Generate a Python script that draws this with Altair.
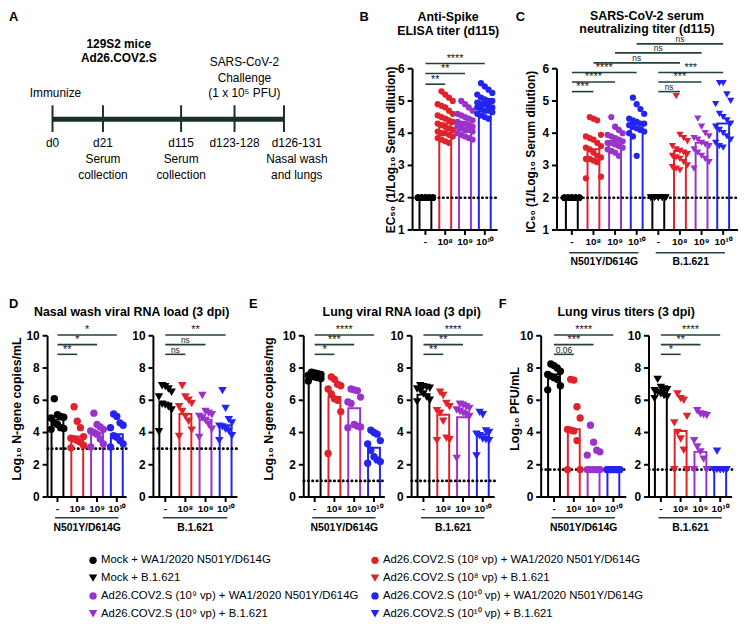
import altair as alt
import pandas as pd

FONT = "Liberation Sans"
W, H = 739, 616
MARGIN = 8  # page margin: reference coordinates are page coordinates


def P(v):
    return v - MARGIN


# ------------------------------------------------------------------ data
DOSE_LABELS = ["-", "10⁸", "10⁹", "10¹⁰"]
BLACK, RED, PURPLE, BLUE = "#000000", "#E0232B", "#9933CC", "#2424F0"
DOSE_COLORS = [BLACK, RED, PURPLE, BLUE]
LINE_COLOR = "#23403A"
TL_COLOR = "#1B2E2A"

TIMELINE_EVENTS = ["d0", "d21", "d115", "d123-128", "d126-131"]
TIMELINE_DAYS = [0, 21, 115, 123, 126]
TIMELINE_NOTES = ["", "Serum\ncollection", "Serum\ncollection", "", "Nasal wash\nand lungs"]

# B  anti-Spike ELISA (d115)
B_MOCK = [2.0, 2.0, 2.0, 2.0, 2.0, 2.0, 2.0, 2.0, 2.0, 2.0, 2.0, 2.0, 2.0, 2.0, 2.0, 2.0, 2.0, 2.0, 2.0, 2.0, 2.0, 2.0, 2.0, 2.0]
B_E8 = [5.3, 5.2, 5.1, 5.0, 4.9, 4.85, 4.8, 4.7, 4.6, 4.55, 4.5, 4.45, 4.4, 4.35, 4.3, 4.25, 4.2, 4.15, 4.1, 4.05, 4.0, 4.0, 3.95, 3.9, 3.85, 3.8, 3.75, 3.7]
B_E9 = [5.0, 4.9, 4.8, 4.7, 4.6, 4.55, 4.5, 4.45, 4.4, 4.35, 4.3, 4.3, 4.25, 4.2, 4.2, 4.15, 4.1, 4.1, 4.05, 4.0, 3.95, 3.9, 3.85, 3.8]
B_E10 = [5.55, 5.45, 5.35, 5.25, 5.2, 5.1, 5.05, 5.0, 5.0, 4.95, 4.9, 4.9, 4.85, 4.8, 4.8, 4.75, 4.7, 4.7, 4.65, 4.6, 4.55, 4.5, 4.45]
B_BARS = [2.0, 4.3, 4.25, 4.85]
B_SIG_FROM = [0, 0, 0]
B_SIG_TO = [1, 2, 3]
B_SIG_Y = [5.52, 5.85, 6.16]
B_SIG_TEXT = ["**", "**", "****"]

# C  neutralizing titer (d115)
C_N_MOCK = [2.0, 2.0, 2.0, 2.0, 2.0, 2.0, 2.0, 2.0, 2.0, 2.0, 2.0, 2.0, 2.0, 2.0, 2.0, 2.0, 2.0, 2.0, 2.0, 2.0]
C_N_E8 = [4.5, 4.45, 4.4, 3.95, 3.9, 3.85, 3.8, 3.7, 3.6, 3.55, 3.5, 3.4, 3.3, 3.25, 3.2, 3.2, 3.15, 3.1, 2.65, 2.6]
C_N_E9 = [4.5, 4.2, 4.1, 4.0, 3.95, 3.9, 3.85, 3.8, 3.75, 3.7, 3.7, 3.65, 3.6, 3.55, 3.5, 3.45, 3.4, 3.3]
C_N_E10 = [5.1, 4.9, 4.75, 4.6, 4.45, 4.4, 4.35, 4.3, 4.3, 4.25, 4.2, 4.15, 4.1, 4.05, 4.0, 3.9, 3.3]
C_B_MOCK = [2.0, 2.0, 2.0, 2.0, 2.0, 2.0, 2.0, 2.0, 2.0, 2.0, 2.0, 2.0, 2.0, 2.0, 2.0, 2.0, 2.0, 2.0]
C_B_E8 = [5.15, 3.95, 3.85, 3.75, 3.6, 3.5, 3.45, 3.4, 3.35, 3.3, 3.25, 3.2, 3.1, 3.0, 2.95, 2.9, 2.85]
C_B_E9 = [4.45, 4.2, 4.0, 3.9, 3.85, 3.8, 3.7, 3.65, 3.6, 3.5, 3.4, 3.3, 3.2, 3.1, 2.9]
C_B_E10 = [5.55, 5.55, 5.2, 5.0, 4.9, 4.6, 4.5, 4.4, 4.3, 4.2, 4.1, 4.0, 3.9, 3.8, 3.7, 3.6, 3.55]
C_BARS = [2.0, 3.5, 3.75, 4.3, 2.0, 3.45, 3.7, 4.3]
C_SIG_FROM = [0, 0, 0, 1, 2, 3, 4, 4, 4]
C_SIG_TO = [1, 2, 3, 5, 6, 7, 5, 6, 7]
C_SIG_Y = [5.29, 5.59, 5.88, 6.18, 6.49, 6.77, 5.29, 5.59, 5.88]
C_SIG_TEXT = ["***", "****", "****", "ns", "ns", "ns", "ns", "***", "***"]

# D  nasal wash RNA (log10 N copies/mL)
D_N = [
    [6.1, 5.1, 5.0, 4.95, 4.9, 4.6, 4.5, 4.3, 4.25, 4.2],
    [5.6, 4.7, 4.3, 3.75, 3.65, 3.6, 3.5, 3.4, 3.2, 3.05],
    [5.2, 4.5, 4.35, 4.2, 4.1, 4.0, 3.9, 3.6, 3.3, 3.1],
    [5.15, 5.0, 4.6, 4.45, 4.3, 3.8, 3.7, 3.5, 3.3, 3.1],
]
D_N_BARS = [4.8, 3.75, 3.95, 3.9]
D_B = [
    [6.9, 6.85, 6.7, 6.5, 6.2, 5.75, 5.7, 5.6, 5.4, 4.05],
    [6.9, 6.2, 6.0, 5.8, 5.6, 5.3, 5.0, 4.7, 4.15, 3.75],
    [6.3, 5.3, 5.2, 5.1, 5.0, 4.9, 4.75, 4.5, 4.2, 3.7],
    [6.6, 5.5, 4.8, 4.6, 4.4, 4.35, 4.2, 4.1, 3.8, 3.5],
]
D_B_BARS = [5.8, 5.15, 4.8, 4.45]
D_N_SIG = ["**", "*", "*"]
D_B_SIG = ["ns", "ns", "**"]

# E  lung RNA (log10 N copies/mg)
E_N = [
    [7.75, 7.7, 7.65, 7.6, 7.55, 7.5, 7.45, 7.4, 7.35, 7.2],
    [7.45, 7.3, 7.0, 6.9, 6.7, 6.4, 6.1, 6.0, 5.3, 2.7],
    [6.7, 6.65, 6.6, 6.2, 5.9, 5.8, 4.5, 4.4, 4.35, 4.3],
    [4.15, 4.0, 3.9, 3.5, 3.3, 2.9, 2.5, 2.3, 2.2, 2.1],
]
E_N_BARS = [7.5, 6.2, 5.5, 3.05]
E_B = [
    [6.9, 6.85, 6.8, 6.75, 6.7, 6.6, 6.4, 6.2, 6.0, 5.9],
    [6.5, 6.3, 5.8, 5.6, 5.35, 5.2, 4.7, 3.65, 3.55, 3.5],
    [5.75, 5.7, 5.6, 5.5, 5.4, 5.3, 5.2, 5.1, 5.0, 2.4],
    [5.25, 5.1, 4.1, 4.0, 3.9, 3.8, 3.6, 3.55, 3.5, 2.55],
]
E_B_BARS = [6.35, 5.1, 4.95, 3.9]
E_N_SIG = ["*", "***", "****"]
E_B_SIG = ["**", "**", "****"]

# F  lung virus titers (log10 PFU/mL)
F_N = [
    [8.25, 8.15, 8.0, 7.8, 7.6, 7.5, 7.4, 7.3, 6.9, 6.65],
    [7.3, 7.25, 5.6, 4.9, 4.2, 4.15, 4.1, 3.5, 1.7, 1.7],
    [4.45, 3.4, 2.9, 2.8, 2.6, 1.7, 1.7, 1.7, 1.7, 1.7],
    [1.7, 1.7, 1.7, 1.7, 1.7, 1.7, 1.7, 1.7, 1.7, 1.7],
]
F_N_BARS = [7.6, 4.2, 1.75, 1.7]
F_B = [
    [7.3, 6.8, 6.7, 6.65, 6.6, 6.5, 6.4, 6.3, 6.2, 6.1],
    [6.4, 6.1, 6.0, 5.0, 4.6, 4.0, 3.6, 2.9, 1.7, 1.7],
    [5.35, 5.15, 5.1, 5.05, 3.5, 3.1, 2.8, 2.35, 1.7, 1.7],
    [2.85, 1.7, 1.7, 1.7, 1.7, 1.7, 1.7, 1.7, 1.7, 1.7],
]
F_B_BARS = [6.6, 4.1, 2.8, 1.7]
F_N_SIG = ["0.06", "***", "****"]
F_B_SIG = ["*", "**", "****"]

LOW_SIG_Y = [8.85, 9.45, 10.05]

LEGEND_LABELS = [
    "Mock + WA1/2020 N501Y/D614G",
    "Mock + B.1.621",
    "Ad26.COV2.S (10⁹ vp) + WA1/2020 N501Y/D614G",
    "Ad26.COV2.S (10⁹ vp) + B.1.621",
    "Ad26.COV2.S (10⁸ vp) + WA1/2020 N501Y/D614G",
    "Ad26.COV2.S (10⁸ vp) + B.1.621",
    "Ad26.COV2.S (10¹⁰ vp) + WA1/2020 N501Y/D614G",
    "Ad26.COV2.S (10¹⁰ vp) + B.1.621",
]
LEGEND_COLORS = [BLACK, BLACK, PURPLE, PURPLE, RED, RED, BLUE, BLUE]
LEGEND_SHAPES = ["circle", "triangle-down"] * 4
TRI_SCALE = 1.35


# ------------------------------------------------------------------ helpers
def text_mark(txt, x, y, size=12, bold=False, angle=None, align="center",
              baseline="top", line_height=None, color="black"):
    kw = dict(font=FONT, fontSize=size, fontWeight="bold" if bold else "normal",
              align=align, baseline=baseline, color=color, lineBreak="\n")
    if angle is not None:
        kw["angle"] = angle
    if line_height is not None:
        kw["lineHeight"] = line_height
    return alt.Chart(pd.DataFrame({"t": [txt]})).mark_text(**kw).encode(
        x=alt.value(P(x)), y=alt.value(P(y)), text="t:N")


def dose_panel(groups, bars, colors, shapes, sig_from, sig_to, sig_y, sig_text,
               lod, g, underline=None, pt_size=45, jitter_px=3.0):
    labels = g["labels"]
    n = len(labels)
    step = (g["last"] - g["first"]) / (n - 1)
    pad = (g["first"] - g["left"]) / step
    lo, hi = -pad, (n - 1) + pad
    y0, y1 = g["ydom"]
    xs = alt.Scale(domain=[lo, hi], range=[P(g["left"]), P(g["last"] + g["first"] - g["left"])],
                   nice=False, zero=False, padding=0)
    ys = alt.Scale(domain=[y0, y1], range=[P(g["ybot"]), P(g["ytop"])], nice=False, zero=False)

    def XD(v):
        return alt.XDatum(v, scale=xs, axis=None, type="quantitative")

    def YD(v):
        return alt.YDatum(v, scale=ys, axis=None, type="quantitative")

    pts = pd.DataFrame([{"xi": i, "v": v, "col": colors[i], "shp": shapes[i],
                         "sz": pt_size * (TRI_SCALE if shapes[i] != "circle" else 1.0)}
                        for i, vals in enumerate(groups) for v in vals])
    bdf = pd.DataFrame({"xi": list(range(n)), "v": bars, "col": colors})
    sdf = pd.DataFrame({"x1": sig_from, "x2": sig_to, "y": sig_y, "t": sig_text})
    sdf["xm"] = (sdf.x1 + sdf.x2) / 2
    sdf["fs"] = [11 if "*" in t else 8.5 for t in sig_text]
    xtick_df = pd.DataFrame({"xi": list(range(n)), "lab": labels})
    ytick_df = pd.DataFrame({"v": g["yticks"]})
    one = pd.DataFrame({"k": [0]})

    bar_layer = alt.Chart(bdf).mark_bar(size=12, fill="white", strokeWidth=2).encode(
        x=alt.X("xi:Q", scale=xs, axis=None),
        y=alt.Y("v:Q", scale=ys, axis=None, stack=None),
        y2=alt.Y2Datum(y0),
        stroke=alt.Stroke("col:N", scale=None, legend=None),
    )
    # axes (drawn from the panel's own scales)
    x_domain = alt.Chart(one).mark_rule(strokeWidth=2, color="black").encode(
        x=XD(lo), x2=alt.X2Datum(hi), y=YD(y0))
    x_ticks = alt.Chart(xtick_df).mark_rule(strokeWidth=2, color="black", y2Offset=5).encode(
        x=alt.X("xi:Q", scale=xs, axis=None), y=YD(y0), y2=alt.Y2Datum(y0))
    x_labels = alt.Chart(xtick_df).mark_text(font=FONT, fontWeight="bold", fontSize=10,
                                             baseline="top", dy=7, color="black").encode(
        x=alt.X("xi:Q", scale=xs, axis=None), y=YD(y0), text="lab:N")
    y_domain = alt.Chart(one).mark_rule(strokeWidth=2, color="black").encode(
        x=XD(lo), y=YD(y0), y2=alt.Y2Datum(y1))
    y_ticks = alt.Chart(ytick_df).mark_rule(strokeWidth=2, color="black", x2Offset=-5).encode(
        x=XD(lo), x2=alt.X2Datum(lo), y=alt.Y("v:Q", scale=ys, axis=None))
    y_labels = alt.Chart(ytick_df).mark_text(font=FONT, fontWeight="bold", fontSize=12,
                                             align="right", baseline="middle", dx=-8,
                                             color="black").encode(
        x=XD(lo), y=alt.Y("v:Q", scale=ys, axis=None), text=alt.Text("v:Q", format="d"))

    lod_layer = alt.Chart(one).mark_rule(strokeDash=[0.5, 3.9], strokeCap="round",
                                         strokeWidth=2.6, color="black").encode(
        x=XD(lo), x2=alt.X2Datum(hi), y=YD(lod))
    jit = jitter_px / step
    pt_layer = alt.Chart(pts).transform_window(
        rn="row_number()", groupby=["xi"], sort=[alt.SortField("v", order="descending")]
    ).transform_calculate(
        xj="datum.xi + ((datum.rn % 5) - 2) * " + str(jit)
    ).mark_point(filled=True, opacity=1, strokeWidth=0).encode(
        x=alt.X("xj:Q", scale=xs, axis=None),
        y=alt.Y("v:Q", scale=ys, axis=None),
        color=alt.Color("col:N", scale=None, legend=None),
        shape=alt.Shape("shp:N", scale=None, legend=None),
        size=alt.Size("sz:Q", scale=None, legend=None),
    )
    sig_rule = alt.Chart(sdf).mark_rule(strokeWidth=1.6, color=LINE_COLOR).encode(
        x=alt.X("x1:Q", scale=xs, axis=None), x2="x2:Q",
        y=alt.Y("y:Q", scale=ys, axis=None),
    )
    sig_txt = alt.Chart(sdf).mark_text(font=FONT, baseline="alphabetic", dy=-1.5,
                                       color="#1a1a1a").encode(
        x=alt.X("xm:Q", scale=xs, axis=None),
        y=alt.Y("y:Q", scale=ys, axis=None),
        text="t:N",
        size=alt.Size("fs:Q", scale=None, legend=None),
    )
    layers = [bar_layer, lod_layer, x_domain, x_ticks, x_labels, y_domain, y_ticks, y_labels,
              pt_layer, sig_rule, sig_txt]
    if underline:
        udf = pd.DataFrame({"a": [u[0] - 0.12 for u in underline],
                            "b": [u[1] + 0.08 for u in underline],
                            "t": [u[2] for u in underline]})
        udf["m"] = [(u[0] + u[1]) / 2 for u in underline]
        layers.append(alt.Chart(udf).mark_rule(strokeWidth=1.6, color=LINE_COLOR).encode(
            x=alt.X("a:Q", scale=xs, axis=None), x2="b:Q", y=alt.value(P(g["uline"]))))
        layers.append(alt.Chart(udf).mark_text(font=FONT, fontWeight="bold", fontSize=10.5,
                                               baseline="middle", color="black").encode(
            x=alt.X("m:Q", scale=xs, axis=None), y=alt.value(P(g["ulabel"])), text="t:N"))
    return alt.layer(*layers)


# ------------------------------------------------------------------ panel A
def timeline_panel():
    xs = alt.Scale(domain=TIMELINE_DAYS, range=[P(53), P(104), P(183), P(237), P(287)],
                   nice=False, zero=False)
    df = pd.DataFrame({"day": TIMELINE_DAYS,
                       "lab": [e + ("\n" + n if n else "") for e, n in zip(TIMELINE_EVENTS, TIMELINE_NOTES)]})
    one = pd.DataFrame({"k": [0]})

    def XD(v):
        return alt.XDatum(v, scale=xs, axis=None, type="quantitative")

    line = alt.Chart(one).mark_rule(strokeWidth=5, color=TL_COLOR).encode(
        x=XD(TIMELINE_DAYS[0]), x2=alt.X2Datum(TIMELINE_DAYS[-1]), y=alt.value(P(117)))
    ticks = alt.Chart(df).mark_rule(strokeWidth=2, color=TL_COLOR).encode(
        x=alt.X("day:Q", scale=xs, axis=None), y=alt.value(P(103)), y2=alt.value(P(130)))
    lab_kw = dict(font=FONT, fontSize=12, baseline="top", lineBreak="\n", lineHeight=16.5,
                  color="black")
    labs = alt.Chart(df.iloc[:-1]).mark_text(**lab_kw).encode(
        x=alt.X("day:Q", scale=xs, axis=None), y=alt.value(P(136)), text="lab:N")
    labs_end = alt.Chart(df.iloc[-1:]).mark_text(dx=13, **lab_kw).encode(
        x=alt.X("day:Q", scale=xs, axis=None), y=alt.value(P(136)), text="lab:N")
    immun = alt.Chart(one).mark_text(font=FONT, fontSize=12, baseline="top", dx=3,
                                     color="black").encode(
        x=XD(TIMELINE_DAYS[0]), y=alt.value(P(86)), text=alt.value("Immunize"))
    chall = alt.Chart(one).mark_text(font=FONT, fontSize=12, baseline="top", dx=10,
                                     lineBreak="\n", lineHeight=16, color="black").encode(
        x=XD(TIMELINE_DAYS[3]), y=alt.value(P(54)),
        text=alt.value("SARS-CoV-2\nChallenge\n(1 x 10⁵ PFU)"))
    return alt.layer(line, ticks, labs, labs_end, immun, chall)


# ------------------------------------------------------------------ geometry
TOP = dict(ydom=[1, 6], ytop=66, ybot=229, yticks=[1, 2, 3, 4, 5, 6], uline=252, ulabel=261)
BOT = dict(ydom=[0, 10], ytop=336, ybot=499, yticks=[0, 2, 4, 6, 8, 10], uline=520, ulabel=530)

GB = dict(TOP, labels=DOSE_LABELS, left=417, first=430, last=490)
GC = dict(TOP, labels=DOSE_LABELS + DOSE_LABELS, left=563, first=578, last=731)
GD1 = dict(BOT, labels=DOSE_LABELS, left=48, first=58, last=118)
GD2 = dict(BOT, labels=DOSE_LABELS, left=155, first=167, last=228)
GE1 = dict(BOT, labels=DOSE_LABELS, left=307, first=318, last=378)
GE2 = dict(BOT, labels=DOSE_LABELS, left=416, first=428, last=488)
GF1 = dict(BOT, labels=DOSE_LABELS, left=547, first=560, last=620)
GF2 = dict(BOT, labels=DOSE_LABELS, left=656, first=668, last=728)

CIRC = ["circle"] * 4
TRI = ["triangle-down"] * 4
N_UL = [(0, 3, "N501Y/D614G")]
B_UL = [(0, 3, "B.1.621")]

panel_b = dose_panel([B_MOCK, B_E8, B_E9, B_E10], B_BARS, DOSE_COLORS, CIRC,
                     B_SIG_FROM, B_SIG_TO, B_SIG_Y, B_SIG_TEXT, 2, GB, pt_size=40, jitter_px=3.8)
panel_c = dose_panel([C_N_MOCK, C_N_E8, C_N_E9, C_N_E10, C_B_MOCK, C_B_E8, C_B_E9, C_B_E10],
                     C_BARS, DOSE_COLORS + DOSE_COLORS, CIRC + TRI,
                     C_SIG_FROM, C_SIG_TO, C_SIG_Y, C_SIG_TEXT, 2, GC,
                     underline=[(0, 3, "N501Y/D614G"), (4, 7, "B.1.621")], pt_size=40,
                     jitter_px=3.8)


def low_panel(groups, bars, shapes, sig, lod, g, ul):
    return dose_panel(groups, bars, DOSE_COLORS, shapes, [0, 0, 0], [1, 2, 3], LOW_SIG_Y, sig,
                      lod, g, underline=ul, pt_size=55, jitter_px=3.2)


panel_d1 = low_panel(D_N, D_N_BARS, CIRC, D_N_SIG, 3, GD1, N_UL)
panel_d2 = low_panel(D_B, D_B_BARS, TRI, D_B_SIG, 3, GD2, B_UL)
panel_e1 = low_panel(E_N, E_N_BARS, CIRC, E_N_SIG, 1, GE1, N_UL)
panel_e2 = low_panel(E_B, E_B_BARS, TRI, E_B_SIG, 1, GE2, B_UL)
panel_f1 = low_panel(F_N, F_N_BARS, CIRC, F_N_SIG, 1.7, GF1, N_UL)
panel_f2 = low_panel(F_B, F_B_BARS, TRI, F_B_SIG, 1.7, GF2, B_UL)

# legend
leg_df = pd.DataFrame({"label": LEGEND_LABELS, "col": LEGEND_COLORS, "shp": LEGEND_SHAPES})
leg_df["sz"] = [55 * (TRI_SCALE if s != "circle" else 1.0) for s in LEGEND_SHAPES]
leg_base = alt.Chart(leg_df).transform_window(idx="row_number()").transform_calculate(
    c="floor((datum.idx - 1) / 4)", r="(datum.idx - 1) % 4")
leg_x = alt.X("c:O", scale=alt.Scale(type="point", domain=[0, 1], range=[P(94), P(379)], padding=0), axis=None)
leg_y = alt.Y("r:O", scale=alt.Scale(type="point", domain=[0, 1, 2, 3], range=[P(563), P(617)], padding=0), axis=None)
legend = alt.layer(
    leg_base.mark_point(filled=True, opacity=1, strokeWidth=0).encode(
        x=leg_x, y=leg_y,
        color=alt.Color("col:N", scale=None, legend=None),
        shape=alt.Shape("shp:N", scale=None, legend=None),
        size=alt.Size("sz:Q", scale=None, legend=None)),
    leg_base.mark_text(font=FONT, fontSize=11.5, align="left", baseline="middle", dx=8,
                       color="black").encode(x=leg_x, y=leg_y, text="label:N"),
)

texts = [
    text_mark("A", 9, 8, size=13, bold=True, align="left"),
    text_mark("129S2 mice\nAd26.COV2.S", 120, 36, size=12, bold=True, line_height=14.5),
    text_mark("B", 368, 8, size=13, bold=True, align="center"),
    text_mark("Anti-Spike\nELISA titer (d115)", 453, 8, size=12.5, bold=True, line_height=13.5),
    text_mark("C", 526, 8, size=13, bold=True, align="center"),
    text_mark("SARS-CoV-2 serum\nneutralizing titer (d115)", 654, 6.5, size=12.5, bold=True, line_height=13),
    text_mark("EC₅₀ (1/Log₁₀ Serum dilution)", 395, 148, size=12, bold=True, angle=270, baseline="middle"),
    text_mark("IC₅₀ (1/Log₁₀ Serum dilution)", 537, 150, size=12, bold=True, angle=270, baseline="middle"),
    text_mark("D", 9, 298, size=13, bold=True, align="left"),
    text_mark("Nasal wash viral RNA load (3 dpi)", 133, 306.5, size=12.5, bold=True),
    text_mark("E", 256, 298, size=13, bold=True, align="center"),
    text_mark("Lung viral RNA load (3 dpi)", 406, 306.5, size=12.5, bold=True),
    text_mark("F", 508, 298, size=13, bold=True, align="center"),
    text_mark("Lung virus titers (3 dpi)", 633, 306.5, size=12.5, bold=True),
    text_mark("Log₁₀ N-gene copies/mL", 17, 410, size=12.5, bold=True, angle=270, baseline="middle"),
    text_mark("Log₁₀ N-gene copies/mg", 272, 410, size=12.5, bold=True, angle=270, baseline="middle"),
    text_mark("Log₁₀ PFU/mL", 521, 410, size=12.5, bold=True, angle=270, baseline="middle"),
]

chart = alt.layer(
    timeline_panel(), panel_b, panel_c,
    panel_d1, panel_d2, panel_e1, panel_e2, panel_f1, panel_f2,
    legend, *texts,
).resolve_scale(x="independent", y="independent").properties(
    width=W, height=H, padding=0, autosize=alt.AutoSizeParams(type="none")
).configure_view(stroke=None)

chart.save("out.html", embed_options={"renderer": "svg", "actions": False})
